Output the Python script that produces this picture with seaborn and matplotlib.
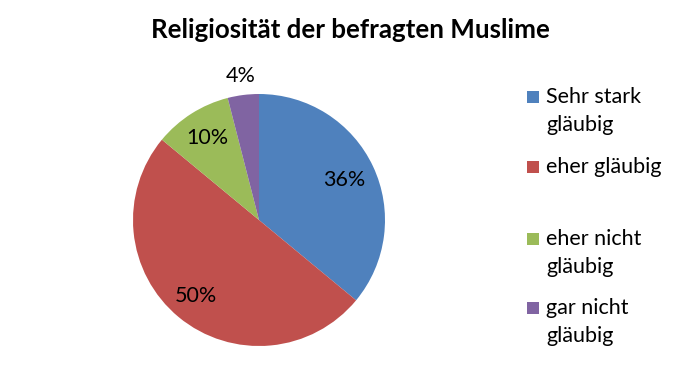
import matplotlib
matplotlib.use("Agg")
import matplotlib.pyplot as plt
import seaborn as sns
import numpy as np
from matplotlib.patches import Rectangle

categories = ["Sehr stark\ngläubig", "eher gläubig", "eher nicht\ngläubig", "gar nicht\ngläubig"]
values = [36, 50, 10, 4]
colors = ["#4F81BD", "#C0504D", "#9BBB59", "#8064A2"]
pct_labels = ["36%", "50%", "10%", "4%"]

sns.set_theme(style="white")
plt.rcParams['font.family'] = ['Lato', 'DejaVu Sans']

W, H = 700, 388
fig = plt.figure(figsize=(7, 3.88), dpi=100)
fig.patch.set_facecolor("white")

cx, cy, r = 259, 220, 126
ax = fig.add_axes([(cx - r) / W, (H - cy - r) / H, 2 * r / W, 2 * r / H])
wedges, texts = ax.pie(values, colors=colors, startangle=90, counterclock=False,
                       radius=1, wedgeprops=dict(linewidth=0))
ax.set_xlim(-1, 1)
ax.set_ylim(-1, 1)
ax.set_aspect("equal")
ax.axis("off")

dists = [0.75, 0.78, 0.77, 1.15]
for w, lab, d in zip(wedges, pct_labels, dists):
    ang = np.deg2rad((w.theta1 + w.theta2) / 2)
    ax.text(d * np.cos(ang), d * np.sin(ang), lab, ha="center", va="center",
            fontsize=15.5, color="black", clip_on=False)

fig.text(350 / W, 1 - 30 / H, "Religiosität der befragten Muslime", ha="center", va="center",
         fontsize=18.6, fontweight="bold", color="black")

leg_y = [97, 167, 239, 308]
for lab, col, y in zip(categories, colors, leg_y):
    fig.add_artist(Rectangle((527 / W, 1 - (y + 6) / H), 12 / W, 12 / H,
                             transform=fig.transFigure, facecolor=col, edgecolor="none"))
    fig.text(546 / W, 1 - (y - 10) / H, lab, ha="left", va="top", fontsize=15.5,
             color="black", linespacing=1.52)

fig.savefig("out.png", dpi=100, facecolor="white")
